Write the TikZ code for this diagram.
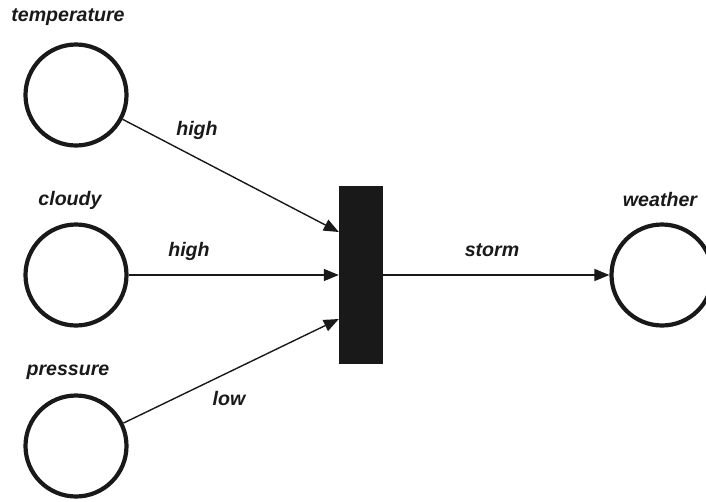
\documentclass[tikz,border=0pt]{standalone}
\usepackage{fontspec}
\setmainfont{Liberation Sans}
\usetikzlibrary{arrows.meta,calc}
\begin{document}
\begin{tikzpicture}[x=1pt,y=-1pt,
  place/.style={circle,draw=black!90,line width=4.2pt,minimum size=101pt,inner sep=0pt},
  lbl/.style={font=\fontsize{19.6}{22}\selectfont\bfseries\itshape,text=black!90,inner sep=0pt},
  arc/.style={line width=1.4pt,draw=black!90,-{Triangle[length=15pt,width=12pt]}}]
\useasboundingbox (0,0) rectangle (706,501);
\node[place] (temp) at (76,95) {};
\node[place] (cloud) at (76,275) {};
\node[place] (press) at (76,446) {};
\node[place] (weather) at (662,275) {};
\node[fill=black!90,minimum width=44pt,minimum height=178pt,inner sep=0pt] (bar) at (361,275) {};
\coordinate (in1) at ($(bar.west)+(0,-43)$);
\coordinate (in3) at ($(bar.west)+(0,44)$);
\node[lbl] (ltemp) at (68,17) {temperature};
\node[lbl] (lcloud) at (70,200) {cloudy};
\node[lbl] (lpress) at (68,372) {pressure};
\node[lbl] (lweather) at (660,199) {weather};
\draw[arc] (temp) -- (in1);
\draw[arc] (cloud) -- (bar.west);
\draw[arc] (press) -- (in3);
\draw[arc] (bar.east) -- (weather);
\node[lbl] (e1) at (197,130) {high};
\node[lbl] (e2) at (189,251) {high};
\node[lbl] (e3) at (229,398) {low};
\node[lbl] (e4) at (492,250) {storm};
\end{tikzpicture}
\end{document}
